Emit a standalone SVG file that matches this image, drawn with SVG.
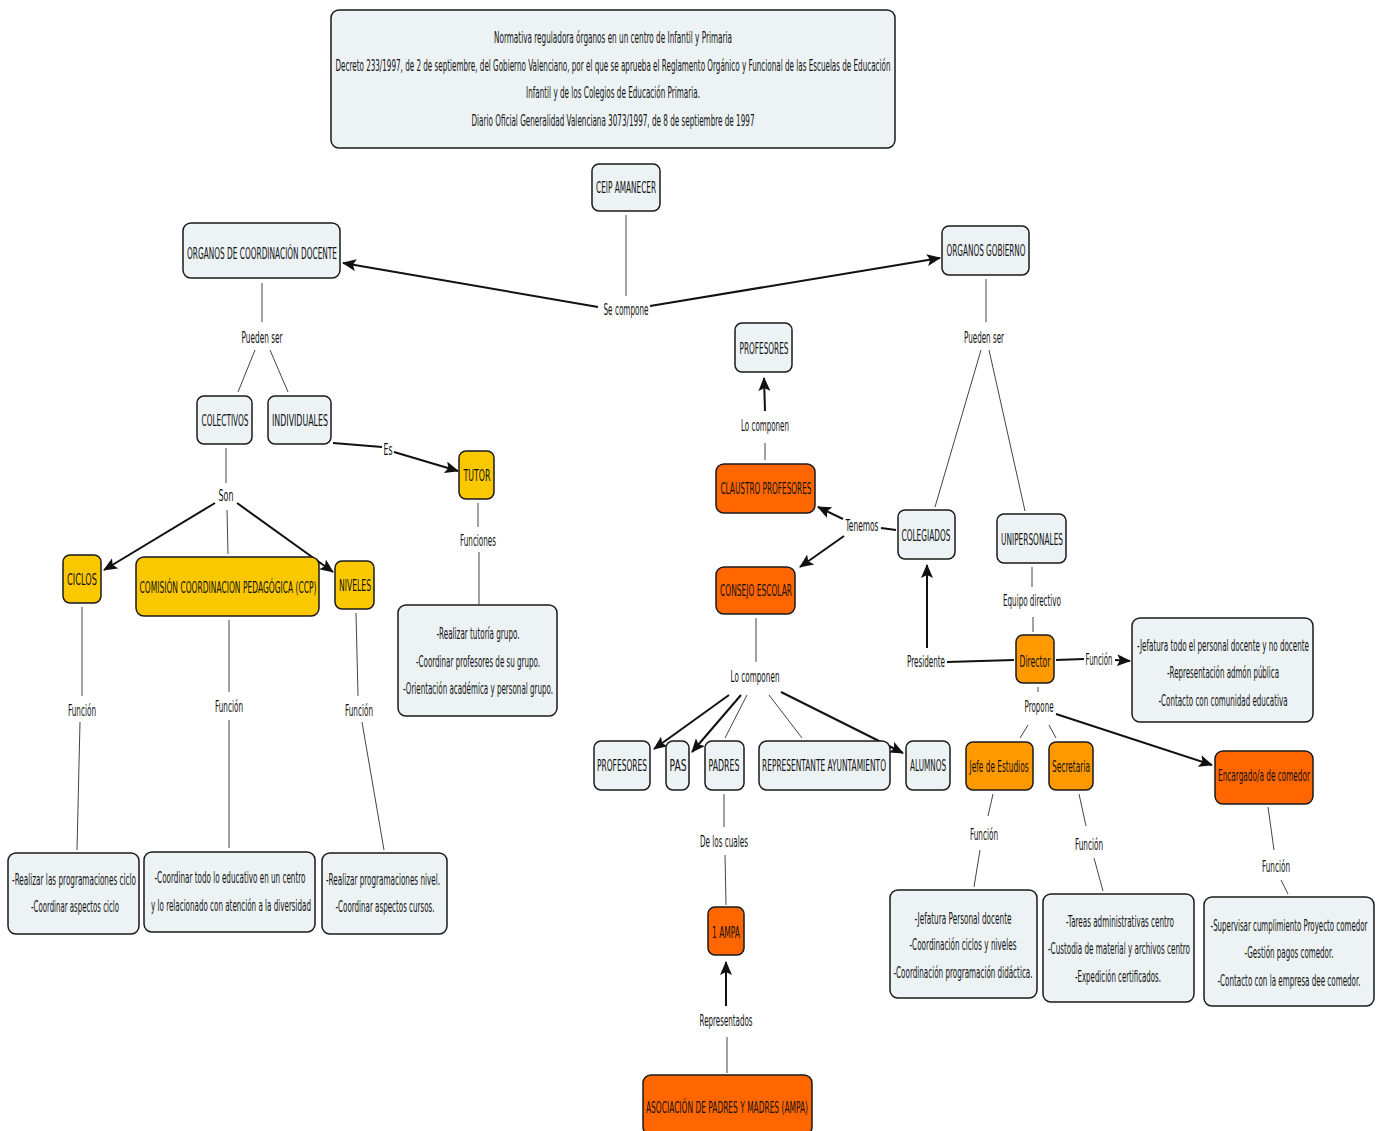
<svg xmlns="http://www.w3.org/2000/svg" width="1382" height="1131" viewBox="0 0 1382 1131">
<style>
text{font-family:"DejaVu Sans","Liberation Sans",sans-serif;font-size:16.5px;fill:#111;text-anchor:middle}
.n{fill:#edf3f5;stroke:#1a1a1a;stroke-width:1.5}
.y{fill:#fbc800;stroke:#1a1a1a;stroke-width:1.5}
.o{fill:#ff6600;stroke:#1a1a1a;stroke-width:1.5}
.m{fill:#ff9900;stroke:#1a1a1a;stroke-width:1.5}
.l{stroke:#444;stroke-width:1;fill:none}
.a{stroke:#111;stroke-width:2;fill:none;marker-end:url(#ah)}
.b{stroke:#111;stroke-width:2;fill:none}
</style>
<defs>
<marker id="ah" markerUnits="userSpaceOnUse" markerWidth="14" markerHeight="12" refX="13" refY="6" orient="auto">
<path d="M0,0 L14,6 L0,12 L3,6 Z" fill="#111"/>
</marker>
</defs>
<rect width="1382" height="1131" fill="#fff"/>
<g id="connectors">
<line class="l" x1="626" y1="215" x2="626" y2="296"/>
<line class="a" x1="598" y1="307" x2="343" y2="263"/>
<line class="a" x1="650" y1="306" x2="940" y2="258"/>
<line class="l" x1="262" y1="283" x2="262" y2="322"/>
<line class="l" x1="255" y1="350" x2="238" y2="392"/>
<line class="l" x1="270" y1="350" x2="288" y2="392"/>
<line class="b" x1="333" y1="443" x2="382" y2="447"/>
<line class="a" x1="394" y1="452" x2="458" y2="471"/>
<line class="l" x1="478" y1="503" x2="478" y2="527"/>
<line class="l" x1="479" y1="552" x2="479" y2="604"/>
<line class="l" x1="226" y1="448" x2="226" y2="483"/>
<line class="a" x1="215" y1="503" x2="104" y2="570"/>
<line class="a" x1="237" y1="503" x2="333" y2="572"/>
<line class="l" x1="227" y1="510" x2="228" y2="554"/>
<line class="l" x1="82" y1="607" x2="82" y2="696"/>
<line class="l" x1="80" y1="722" x2="77" y2="850"/>
<line class="l" x1="229" y1="620" x2="229" y2="692"/>
<line class="l" x1="229" y1="720" x2="229" y2="848"/>
<line class="l" x1="356" y1="613" x2="358" y2="696"/>
<line class="l" x1="362" y1="722" x2="384" y2="850"/>
<line class="l" x1="986" y1="279" x2="986" y2="322"/>
<line class="l" x1="981" y1="350" x2="935" y2="507"/>
<line class="l" x1="989" y1="350" x2="1025" y2="511"/>
<line class="b" x1="896" y1="530" x2="881" y2="528"/>
<line class="a" x1="843" y1="519" x2="818" y2="507"/>
<line class="a" x1="844" y1="536" x2="800" y2="567"/>
<line class="l" x1="765" y1="460" x2="765" y2="443"/>
<line class="a" x1="765" y1="411" x2="764" y2="378"/>
<line class="l" x1="756" y1="618" x2="756" y2="662"/>
<line class="a" x1="729" y1="695" x2="654" y2="749"/>
<line class="a" x1="741" y1="695" x2="692" y2="752"/>
<line class="l" x1="747" y1="695" x2="725" y2="738"/>
<line class="l" x1="769" y1="695" x2="802" y2="738"/>
<line class="a" x1="781" y1="692" x2="903" y2="753"/>
<line class="l" x1="724" y1="794" x2="724" y2="827"/>
<line class="l" x1="725" y1="855" x2="726" y2="905"/>
<line class="a" x1="726" y1="1006" x2="726" y2="962"/>
<line class="l" x1="727" y1="1037" x2="727" y2="1073"/>
<line class="l" x1="1032" y1="567" x2="1032" y2="587"/>
<line class="l" x1="1033" y1="617" x2="1033" y2="632"/>
<line class="a" x1="927" y1="648" x2="927" y2="565"/>
<line class="b" x1="947" y1="662" x2="1014" y2="660"/>
<line class="b" x1="1056" y1="660" x2="1084" y2="659"/>
<line class="a" x1="1115" y1="660" x2="1130" y2="661"/>
<line class="l" x1="1038" y1="687" x2="1038" y2="692"/>
<line class="l" x1="1028" y1="725" x2="1020" y2="738"/>
<line class="l" x1="1049" y1="725" x2="1056" y2="738"/>
<line class="a" x1="1056" y1="714" x2="1212" y2="765"/>
<line class="l" x1="993" y1="794" x2="988" y2="816"/>
<line class="l" x1="980" y1="850" x2="974" y2="887"/>
<line class="l" x1="1079" y1="794" x2="1086" y2="826"/>
<line class="l" x1="1094" y1="858" x2="1103" y2="891"/>
<line class="l" x1="1268" y1="807" x2="1274" y2="850"/>
<line class="l" x1="1281" y1="880" x2="1288" y2="894"/>
</g>
<g id="labels">
<text transform="translate(626 315) scale(.5 1)" textLength="90" lengthAdjust="spacingAndGlyphs">Se compone</text>
<text transform="translate(262 343) scale(.5 1)" textLength="82" lengthAdjust="spacingAndGlyphs">Pueden ser</text>
<text transform="translate(388 455) scale(.5 1)" textLength="18" lengthAdjust="spacingAndGlyphs">Es</text>
<text transform="translate(478 546) scale(.5 1)" textLength="72" lengthAdjust="spacingAndGlyphs">Funciones</text>
<text transform="translate(226 501) scale(.5 1)" textLength="30" lengthAdjust="spacingAndGlyphs">Son</text>
<text transform="translate(82 716) scale(.5 1)" textLength="56" lengthAdjust="spacingAndGlyphs">Función</text>
<text transform="translate(229 712) scale(.5 1)" textLength="56" lengthAdjust="spacingAndGlyphs">Función</text>
<text transform="translate(359 716) scale(.5 1)" textLength="56" lengthAdjust="spacingAndGlyphs">Función</text>
<text transform="translate(984 343) scale(.5 1)" textLength="80" lengthAdjust="spacingAndGlyphs">Pueden ser</text>
<text transform="translate(862 531) scale(.5 1)" textLength="66" lengthAdjust="spacingAndGlyphs">Tenemos</text>
<text transform="translate(765 431) scale(.5 1)" textLength="96" lengthAdjust="spacingAndGlyphs">Lo componen</text>
<text transform="translate(755 682) scale(.5 1)" textLength="98" lengthAdjust="spacingAndGlyphs">Lo componen</text>
<text transform="translate(724 847) scale(.5 1)" textLength="96" lengthAdjust="spacingAndGlyphs">De los cuales</text>
<text transform="translate(726 1026) scale(.5 1)" textLength="106" lengthAdjust="spacingAndGlyphs">Representados</text>
<text transform="translate(1032 606) scale(.5 1)" textLength="116" lengthAdjust="spacingAndGlyphs">Equipo directivo</text>
<text transform="translate(926 667) scale(.5 1)" textLength="76" lengthAdjust="spacingAndGlyphs">Presidente</text>
<text transform="translate(1099 665) scale(.5 1)" textLength="54" lengthAdjust="spacingAndGlyphs">Función</text>
<text transform="translate(1039 712) scale(.5 1)" textLength="58" lengthAdjust="spacingAndGlyphs">Propone</text>
<text transform="translate(984 840) scale(.5 1)" textLength="56" lengthAdjust="spacingAndGlyphs">Función</text>
<text transform="translate(1089 850) scale(.5 1)" textLength="56" lengthAdjust="spacingAndGlyphs">Función</text>
<text transform="translate(1276 872) scale(.5 1)" textLength="56" lengthAdjust="spacingAndGlyphs">Función</text>
</g>
<g id="title"><rect class="n" x="331" y="10" width="564" height="138" rx="8"/>
<text transform="translate(613 43) scale(.5 1)" textLength="476" lengthAdjust="spacingAndGlyphs">Normativa reguladora órganos en un centro de Infantil y Primaria</text>
<text transform="translate(613 71) scale(.5 1)" textLength="1110" lengthAdjust="spacingAndGlyphs">Decreto 233/1997, de 2 de septiembre, del Gobierno Valenciano, por el que se aprueba el Reglamento Orgánico y Funcional de las Escuelas de Educación</text>
<text transform="translate(613 98) scale(.5 1)" textLength="348" lengthAdjust="spacingAndGlyphs">Infantil y de los Colegios de Educación Primaria.</text>
<text transform="translate(613 126) scale(.5 1)" textLength="566" lengthAdjust="spacingAndGlyphs">Diario Oficial Generalidad Valenciana 3073/1997, de 8 de septiembre de 1997</text></g>
<g id="ceip"><rect class="n" x="592" y="164" width="68" height="47" rx="7"/><text transform="translate(626 193) scale(.5 1)" textLength="120" lengthAdjust="spacingAndGlyphs">CEIP AMANECER</text></g>
<g id="ocd"><rect class="n" x="183" y="223" width="157" height="55" rx="8"/><text transform="translate(262 259) scale(.5 1)" textLength="300" lengthAdjust="spacingAndGlyphs">ORGANOS DE COORDINACIÓN DOCENTE</text></g>
<g id="og"><rect class="n" x="942" y="226" width="87" height="49" rx="7"/><text transform="translate(986 256) scale(.5 1)" textLength="158" lengthAdjust="spacingAndGlyphs">ORGANOS GOBIERNO</text></g>
<g id="colectivos"><rect class="n" x="197" y="396" width="55" height="48" rx="7"/><text transform="translate(225 426) scale(.5 1)" textLength="94" lengthAdjust="spacingAndGlyphs">COLECTIVOS</text></g>
<g id="individuales"><rect class="n" x="268" y="396" width="63" height="48" rx="7"/><text transform="translate(300 426) scale(.5 1)" textLength="112" lengthAdjust="spacingAndGlyphs">INDIVIDUALES</text></g>
<g id="tutor"><rect class="y" x="459" y="451" width="35" height="48" rx="7"/><text transform="translate(477 481) scale(.5 1)" textLength="54" lengthAdjust="spacingAndGlyphs">TUTOR</text></g>
<g id="tutor-func"><rect class="n" x="398" y="605" width="159" height="111" rx="8"/>
<text transform="translate(478 639) scale(.5 1)" textLength="166" lengthAdjust="spacingAndGlyphs">-Realizar tutoría grupo.</text>
<text transform="translate(478 667) scale(.5 1)" textLength="248" lengthAdjust="spacingAndGlyphs">-Coordinar profesores de su grupo.</text>
<text transform="translate(478 694) scale(.5 1)" textLength="300" lengthAdjust="spacingAndGlyphs">-Orientación académica y personal grupo.</text></g>
<g id="ciclos"><rect class="y" x="63" y="555" width="38" height="48" rx="7"/><text transform="translate(82 585) scale(.5 1)" textLength="60" lengthAdjust="spacingAndGlyphs">CICLOS</text></g>
<g id="ccp"><rect class="y" x="136" y="557" width="183" height="59" rx="8"/><text transform="translate(228 593) scale(.5 1)" textLength="354" lengthAdjust="spacingAndGlyphs">COMISIÓN COORDINACION PEDAGÓGICA (CCP)</text></g>
<g id="niveles"><rect class="y" x="335" y="561" width="39" height="48" rx="7"/><text transform="translate(355 591) scale(.5 1)" textLength="64" lengthAdjust="spacingAndGlyphs">NIVELES</text></g>
<g id="ciclos-func"><rect class="n" x="8" y="853" width="131" height="81" rx="8"/>
<text transform="translate(74 885) scale(.5 1)" textLength="248" lengthAdjust="spacingAndGlyphs">-Realizar las programaciones ciclo</text>
<text transform="translate(75 912) scale(.5 1)" textLength="176" lengthAdjust="spacingAndGlyphs">-Coordinar aspectos ciclo</text></g>
<g id="ccp-func"><rect class="n" x="144" y="852" width="171" height="80" rx="8"/>
<text transform="translate(230 883) scale(.5 1)" textLength="302" lengthAdjust="spacingAndGlyphs">-Coordinar todo lo educativo en un centro</text>
<text transform="translate(231 911) scale(.5 1)" textLength="320" lengthAdjust="spacingAndGlyphs">y lo relacionado con atención a la diversidad</text></g>
<g id="niveles-func"><rect class="n" x="322" y="853" width="125" height="81" rx="8"/>
<text transform="translate(383 885) scale(.5 1)" textLength="228" lengthAdjust="spacingAndGlyphs">-Realizar programaciones nivel.</text>
<text transform="translate(385 912) scale(.5 1)" textLength="198" lengthAdjust="spacingAndGlyphs">-Coordinar aspectos cursos.</text></g>
<g id="profesores1"><rect class="n" x="735" y="323" width="57" height="49" rx="7"/><text transform="translate(764 354) scale(.5 1)" textLength="98" lengthAdjust="spacingAndGlyphs">PROFESORES</text></g>
<g id="claustro"><rect class="o" x="716" y="464" width="99" height="49" rx="8"/><text transform="translate(766 494) scale(.5 1)" textLength="182" lengthAdjust="spacingAndGlyphs">CLAUSTRO PROFESORES</text></g>
<g id="colegiados"><rect class="n" x="898" y="510" width="57" height="49" rx="7"/><text transform="translate(926 541) scale(.5 1)" textLength="98" lengthAdjust="spacingAndGlyphs">COLEGIADOS</text></g>
<g id="unipersonales"><rect class="n" x="997" y="514" width="69" height="49" rx="7"/><text transform="translate(1032 545) scale(.5 1)" textLength="124" lengthAdjust="spacingAndGlyphs">UNIPERSONALES</text></g>
<g id="consejo"><rect class="o" x="716" y="567" width="79" height="47" rx="8"/><text transform="translate(756 596) scale(.5 1)" textLength="144" lengthAdjust="spacingAndGlyphs">CONSEJO ESCOLAR</text></g>
<g id="profesores2"><rect class="n" x="594" y="741" width="56" height="49" rx="7"/><text transform="translate(622 771) scale(.5 1)" textLength="100" lengthAdjust="spacingAndGlyphs">PROFESORES</text></g>
<g id="pas"><rect class="n" x="666" y="741" width="23" height="49" rx="7"/><text transform="translate(678 771) scale(.5 1)" textLength="34" lengthAdjust="spacingAndGlyphs">PAS</text></g>
<g id="padres"><rect class="n" x="705" y="741" width="39" height="49" rx="7"/><text transform="translate(724 771) scale(.5 1)" textLength="62" lengthAdjust="spacingAndGlyphs">PADRES</text></g>
<g id="ayto"><rect class="n" x="759" y="741" width="131" height="49" rx="8"/><text transform="translate(824 771) scale(.5 1)" textLength="248" lengthAdjust="spacingAndGlyphs">REPRESENTANTE AYUNTAMIENTO</text></g>
<g id="alumnos"><rect class="n" x="906" y="741" width="44" height="49" rx="7"/><text transform="translate(928 771) scale(.5 1)" textLength="72" lengthAdjust="spacingAndGlyphs">ALUMNOS</text></g>
<g id="ampa1"><rect class="o" x="708" y="907" width="36" height="48" rx="7"/><text transform="translate(726 938) scale(.5 1)" textLength="56" lengthAdjust="spacingAndGlyphs">1 AMPA</text></g>
<g id="ampa"><rect class="o" x="643" y="1075" width="169" height="60" rx="8"/><text transform="translate(727 1113) scale(.5 1)" textLength="324" lengthAdjust="spacingAndGlyphs">ASOCIACIÓN DE PADRES Y MADRES (AMPA)</text></g>
<g id="director"><rect class="m" x="1016" y="635" width="38" height="48" rx="7"/><text transform="translate(1035 667) scale(.5 1)" textLength="62" lengthAdjust="spacingAndGlyphs">Director</text></g>
<g id="director-func"><rect class="n" x="1132" y="618" width="181" height="104" rx="8"/>
<text transform="translate(1223 651) scale(.5 1)" textLength="344" lengthAdjust="spacingAndGlyphs">-Jefatura todo el personal docente y no docente</text>
<text transform="translate(1223 678) scale(.5 1)" textLength="224" lengthAdjust="spacingAndGlyphs">-Representación admón pública</text>
<text transform="translate(1223 706) scale(.5 1)" textLength="258" lengthAdjust="spacingAndGlyphs">-Contacto con comunidad educativa</text></g>
<g id="jefe"><rect class="m" x="966" y="742" width="67" height="48" rx="7"/><text transform="translate(999 772) scale(.5 1)" textLength="118" lengthAdjust="spacingAndGlyphs">Jefe de Estudios</text></g>
<g id="secretaria"><rect class="m" x="1049" y="742" width="44" height="48" rx="7"/><text transform="translate(1071 772) scale(.5 1)" textLength="76" lengthAdjust="spacingAndGlyphs">Secretaria</text></g>
<g id="encargado"><rect class="o" x="1215" y="751" width="98" height="53" rx="8"/><text transform="translate(1264 781) scale(.5 1)" textLength="184" lengthAdjust="spacingAndGlyphs">Encargado/a de comedor</text></g>
<g id="jefe-func"><rect class="n" x="890" y="890" width="147" height="108" rx="8"/>
<text transform="translate(963 924) scale(.5 1)" textLength="194" lengthAdjust="spacingAndGlyphs">-Jefatura Personal docente</text>
<text transform="translate(963 950) scale(.5 1)" textLength="214" lengthAdjust="spacingAndGlyphs">-Coordinación ciclos y niveles</text>
<text transform="translate(963 978) scale(.5 1)" textLength="278" lengthAdjust="spacingAndGlyphs">-Coordinación programación didáctica.</text></g>
<g id="secretaria-func"><rect class="n" x="1043" y="894" width="151" height="108" rx="8"/>
<text transform="translate(1120 927) scale(.5 1)" textLength="216" lengthAdjust="spacingAndGlyphs">-Tareas administrativas centro</text>
<text transform="translate(1119 954) scale(.5 1)" textLength="284" lengthAdjust="spacingAndGlyphs">-Custodia de material y archivos centro</text>
<text transform="translate(1118 982) scale(.5 1)" textLength="172" lengthAdjust="spacingAndGlyphs">-Expedición certificados.</text></g>
<g id="encargado-func"><rect class="n" x="1204" y="897" width="170" height="109" rx="8"/>
<text transform="translate(1289 931) scale(.4 1)" textLength="392" lengthAdjust="spacingAndGlyphs">-Supervisar cumplimiento Proyecto comedor</text>
<text transform="translate(1289 958) scale(.5 1)" textLength="178" lengthAdjust="spacingAndGlyphs">-Gestión pagos comedor.</text>
<text transform="translate(1289 986) scale(.5 1)" textLength="286" lengthAdjust="spacingAndGlyphs">-Contacto con la empresa dee comedor.</text></g>
</svg>
